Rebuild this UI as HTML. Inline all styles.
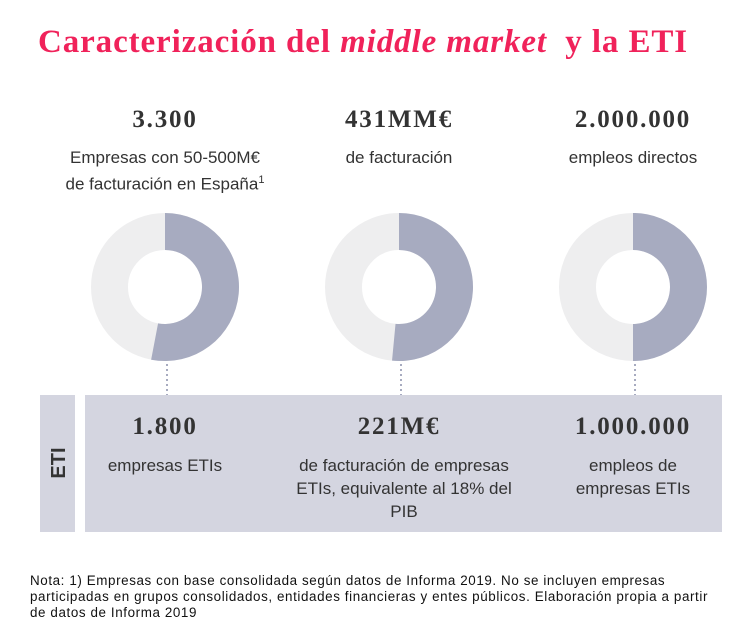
<!DOCTYPE html>
<html><head><meta charset="utf-8"><style>
body{margin:0;width:750px;height:639px;background:#fff;position:relative;overflow:hidden;font-family:"Liberation Sans",sans-serif;color:#333}
.abs{position:absolute}
.title{left:38px;top:24px;font-family:"Liberation Serif",serif;font-weight:bold;font-size:33px;letter-spacing:0.9px;color:#f0225a;white-space:nowrap}
.big{font-family:"Liberation Serif",serif;font-weight:bold;font-size:25px;letter-spacing:1.8px;color:#333;text-align:center;width:234px}
.sub{font-size:17px;text-align:center;width:234px;line-height:23px;color:#333}
.note{left:30px;top:573px;font-size:13.4px;letter-spacing:0.6px;line-height:16px;color:#111;width:720px;white-space:nowrap}
</style></head><body>
<div class="abs title">Caracterización del <i>middle market</i>&nbsp; y la ETI</div>
<svg class="abs" style="left:0;top:0" width="750" height="639">
<rect x="40" y="395" width="35" height="137" fill="#d4d5e0"/>
<rect x="85" y="395" width="637" height="137" fill="#d4d5e0"/>
<text x="0" y="0" transform="translate(65,463) rotate(-90)" text-anchor="middle" font-family="Liberation Sans" font-weight="bold" font-size="20" fill="#333">ETI</text>
<g id="donuts"></g>
</svg>
<div id="texts"></div>
<div class="abs note">Nota: 1) Empresas con base consolidada según datos de Informa 2019. No se incluyen empresas<br>participadas en grupos consolidados, entidades financieras y entes públicos. Elaboración propia a partir<br>de datos de Informa 2019</div>
<script>
const categories=["empresas","facturacion","empleos"];
const totalLabels=["3.300","431MM€","2.000.000"];
const totalDesc=["Empresas con 50-500M€<br>de facturación en España<sup style='font-size:11px'>1</sup>","de facturación","empleos directos"];
const etiShare=[0.53,0.515,0.5];
const etiLabels=["1.800","221M€","1.000.000"];
const etiDesc=["empresas ETIs","de facturación de empresas<br>ETIs, equivalente al 18% del<br>PIB","empleos de<br>empresas ETIs"];
const ns="http://www.w3.org/2000/svg";
const g=document.getElementById('donuts');
const cx=i=>165+i*234, cy=287, R=74, r=37;
function pt(c,rad,f){const a=f*2*Math.PI;return [c+rad*Math.sin(a),cy-rad*Math.cos(a)];}
categories.forEach((c,i)=>{
  const x=cx(i);
  const bg=document.createElementNS(ns,'circle');
  bg.setAttribute('cx',x);bg.setAttribute('cy',cy);bg.setAttribute('r',(R+r)/2);
  bg.setAttribute('fill','none');bg.setAttribute('stroke','#eeeeef');bg.setAttribute('stroke-width',R-r);
  
  
  g.appendChild(bg);
  const f=etiShare[i];
  const [x1,y1]=pt(x,R,0),[x2,y2]=pt(x,R,f),[x3,y3]=pt(x,r,f),[x4,y4]=pt(x,r,0);
  const lg=f>0.5?1:0;
  const p=document.createElementNS(ns,'path');
  p.setAttribute('d',`M${x1},${y1}A${R},${R} 0 ${lg} 1 ${x2},${y2}L${x3},${y3}A${r},${r} 0 ${lg} 0 ${x4},${y4}Z`);
  p.setAttribute('fill','#a7abc0');
  
  
  g.appendChild(p);
  const ln=document.createElementNS(ns,'line');
  ln.setAttribute('x1',x+2);ln.setAttribute('x2',x+2);ln.setAttribute('y1',364);ln.setAttribute('y2',395);
  ln.setAttribute('stroke','#a7abc0');ln.setAttribute('stroke-width',2);ln.setAttribute('stroke-dasharray','2,3');
  
  
  g.appendChild(ln);
});
const T=document.getElementById('texts');
function add(cls,left,top,html,name){const d=document.createElement('div');d.className='abs '+cls;d.style.left=left+'px';d.style.top=top+'px';d.innerHTML=html;


T.appendChild(d);}
categories.forEach((c,i)=>{
  const l=cx(i)-117;
  add('big',l,106,totalLabels[i],'total-value-'+c);
  add('sub',l,146,totalDesc[i],'total-desc-'+c);
  add('big',l,413,etiLabels[i],'eti-value-'+c);
  add('sub',l+(i==1?5:0),454,etiDesc[i],'eti-desc-'+c);
});
</script>
</body></html>
